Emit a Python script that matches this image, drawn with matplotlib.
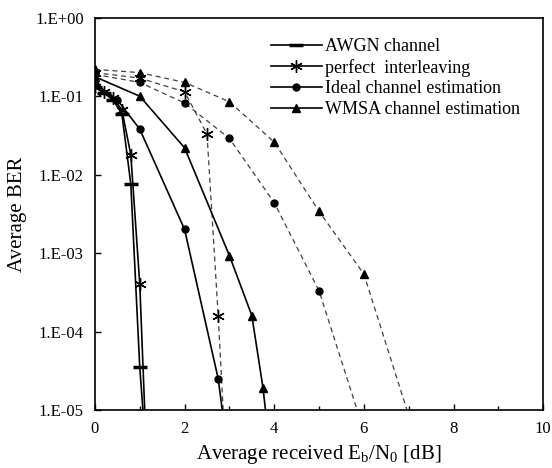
import numpy as np
import matplotlib
matplotlib.use("Agg")
import matplotlib.pyplot as plt
from matplotlib.ticker import FixedLocator, FuncFormatter

plt.rcParams['font.family'] = ['Liberation Serif', 'DejaVu Serif']
plt.rcParams['mathtext.fontset'] = 'custom'
plt.rcParams['mathtext.rm'] = 'Liberation Serif'

# curvas continuas
awgn_x = [0, 0.2, 0.4, 0.6, 0.8, 1.0, 1.2]
awgn_y = [0.13, 0.11, 0.09, 0.06, 7.6e-3, 3.5e-5, 1e-6]

pi_x = [0, 0.2, 0.4, 0.6, 0.8, 1.0, 1.2]
pi_y = [0.13, 0.114, 0.095, 0.067, 0.018, 4e-4, 5e-7]

ideal_x = [0, 0.5, 1.0, 2.0, 2.75, 3.0]
ideal_y = [0.145, 0.09, 0.038, 2.0e-3, 2.5e-5, 2e-6]

wmsa_x = [0, 1, 2, 3, 3.5, 3.75, 4.0]
wmsa_y = [0.177, 0.10, 0.022, 9.3e-4, 1.6e-4, 1.9e-5, 1e-6]

# curvas punteadas
pi_d_x = [0, 1, 2, 2.5, 2.75, 3.0]
pi_d_y = [0.20, 0.17, 0.114, 0.033, 1.6e-4, 3e-7]

ideal_d_x = [0, 1, 2, 3, 4, 5, 6]
ideal_d_y = [0.19, 0.15, 0.082, 0.029, 4.4e-3, 3.3e-4, 5.4e-6]

wmsa_d_x = [0, 1, 2, 3, 4, 5, 6, 7]
wmsa_d_y = [0.22, 0.20, 0.15, 0.085, 0.026, 3.4e-3, 5.4e-4, 8.5e-6]

ytick_vals = [1e-5, 1e-4, 1e-3, 1e-2, 1e-1, 1e0]
ytick_labels = ["1.E-05", "1.E-04", "1.E-03", "1.E-02", "1.E-01", "1.E+00"]

fig = plt.figure(figsize=(5.52, 4.68), dpi=100)
ax = fig.add_axes([0.172, 0.124, 0.812, 0.838])

dash = (0, (4, 3))
ax.plot(pi_d_x, pi_d_y, color='0.25', lw=0.9, ls=dash, marker=(6, 2, 0), ms=9, mew=1.0, mec='k', mfc='k')
ax.plot(ideal_d_x, ideal_d_y, color='0.25', lw=0.9, ls=dash, marker='o', ms=5, mec='k', mfc='k')
ax.plot(wmsa_d_x, wmsa_d_y, color='0.25', lw=0.9, ls=dash, marker='^', ms=6, mec='k', mfc='k')

ax.plot(awgn_x, awgn_y, color='k', lw=1.2, marker='_', ms=10, mew=2.5, label='AWGN channel')
ax.plot(pi_x, pi_y, color='k', lw=1.2, marker=(6, 2, 0), ms=9, mew=1.0, label='perfect  interleaving')
ax.plot(ideal_x, ideal_y, color='k', lw=1.2, marker='o', ms=5, label='Ideal channel estimation')
ax.plot(wmsa_x, wmsa_y, color='k', lw=1.2, marker='^', ms=6, label='WMSA channel estimation')

ax.set_yscale('log')
ax.set_xlim(0, 10)
ax.set_ylim(1e-5, 1)
ax.xaxis.set_major_locator(FixedLocator([0, 2, 4, 6, 8, 10]))
ax.xaxis.set_minor_locator(FixedLocator([1, 3, 5, 7, 9]))
ax.yaxis.set_major_locator(FixedLocator(ytick_vals))
ax.yaxis.set_minor_locator(FixedLocator([]))
ax.yaxis.set_major_formatter(FuncFormatter(lambda v, p: ytick_labels[ytick_vals.index(v)] if v in ytick_vals else ""))
ax.tick_params(axis='both', which='both', direction='in', labelsize=12, top=False, right=False)
ax.tick_params(axis='both', which='major', length=4, width=1, pad=8)
ax.tick_params(axis='x', which='minor', length=3, width=1)
for s in ax.spines.values():
    s.set_linewidth(1.2)

ax.set_xlabel(r"Average received E$_\mathrm{b}$/N$_\mathrm{0}$ [dB]", fontsize=15, labelpad=4)
ax.set_ylabel("Average BER", fontsize=15, labelpad=6)

ax.legend(loc='upper left', bbox_to_anchor=(0.365, 0.98), frameon=False, fontsize=13,
          handlelength=2.8, handletextpad=0.2, labelspacing=0.2, borderpad=0.2)

fig.savefig("out.png", dpi=100)
